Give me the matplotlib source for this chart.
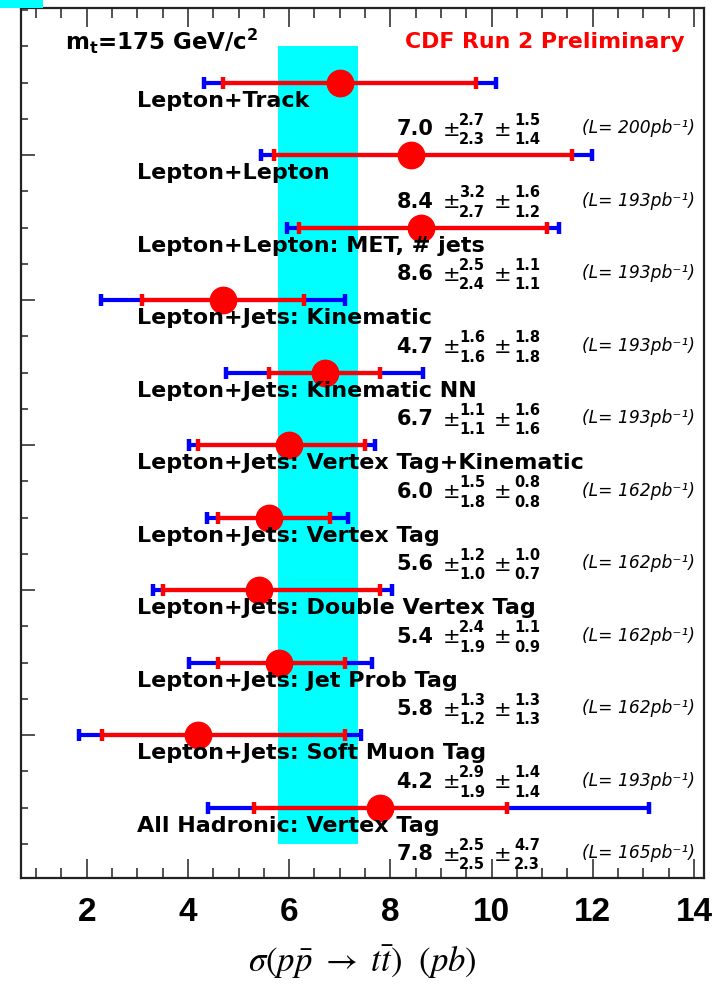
import matplotlib
matplotlib.use("Agg")
import matplotlib.pyplot as plt
from matplotlib.patches import Rectangle
from matplotlib.ticker import MultipleLocator, FixedLocator

# ---------------- data ----------------
labels = ["Lepton+Track", "Lepton+Lepton", "Lepton+Lepton: MET, # jets",
          "Lepton+Jets: Kinematic", "Lepton+Jets: Kinematic NN",
          "Lepton+Jets: Vertex Tag+Kinematic", "Lepton+Jets: Vertex Tag",
          "Lepton+Jets: Double Vertex Tag", "Lepton+Jets: Jet Prob Tag",
          "Lepton+Jets: Soft Muon Tag", "All Hadronic: Vertex Tag"]
values = [7.0, 8.4, 8.6, 4.7, 6.7, 6.0, 5.6, 5.4, 5.8, 4.2, 7.8]
stat_up = [2.7, 3.2, 2.5, 1.6, 1.1, 1.5, 1.2, 2.4, 1.3, 2.9, 2.5]
stat_dn = [2.3, 2.7, 2.4, 1.6, 1.1, 1.8, 1.0, 1.9, 1.2, 1.9, 2.5]
syst_up = [1.5, 1.6, 1.1, 1.8, 1.6, 0.8, 1.0, 1.1, 1.3, 1.4, 4.7]
syst_dn = [1.4, 1.2, 1.1, 1.8, 1.6, 0.8, 0.7, 0.9, 1.3, 1.4, 2.3]
tot_up = [3.09, 3.58, 2.73, 2.41, 1.94, 1.70, 1.56, 2.64, 1.84, 3.22, 5.32]
tot_dn = [2.69, 2.95, 2.64, 2.41, 1.94, 1.97, 1.22, 2.10, 1.77, 2.36, 3.40]
lumi = ["200", "193", "193", "193", "193", "162", "162", "162", "162", "193", "165"]
band_lo, band_hi = 5.77, 7.37
x_ticks = [2, 4, 6, 8, 10, 12, 14]

# ---------------- style ----------------
plt.rcParams["font.family"] = ["DejaVu Sans"]
plt.rcParams["mathtext.fontset"] = "dejavusans"

fig = plt.figure(figsize=(7.24, 9.86), dpi=100)
ax = fig.add_axes([21/724, 1-878/986, (704-21)/724, (878-8)/986])

rows = list(range(len(values)))
ax.set_xlim(0.7, 14.2)
ax.set_ylim(10.97, -1.03)

# band
ax.add_patch(Rectangle((band_lo, -0.5), band_hi - band_lo, 11.0,
                       facecolor="#00FFFF", edgecolor="none", zorder=0))

# error bars
ax.errorbar(values, rows, xerr=[tot_dn, tot_up], fmt="none", ecolor="#0000FF",
            elinewidth=3.0, capsize=4.5, capthick=3.2, zorder=2)
ax.errorbar(values, rows, xerr=[stat_dn, stat_up], fmt="none", ecolor="#FF0000",
            elinewidth=3.0, capsize=4.5, capthick=3.2, zorder=3)
ax.plot(values, rows, "o", color="#FF0000", markersize=19, zorder=4)

# texts
for i in rows:
    ax.text(3.0, i + 0.25, labels[i], fontsize=16, fontweight="bold",
            ha="left", va="center", zorder=5)
    ax.text(8.12, i + 0.64, f"{values[i]:.1f}", fontsize=15, fontweight="bold",
            ha="left", va="center", zorder=5)
    ax.text(9.03, i + 0.65, "±", fontsize=15, ha="left", va="center", zorder=5)
    ax.text(9.36, i + 0.52, f"{stat_up[i]:.1f}", fontsize=10.5, fontweight="bold",
            ha="left", va="center", zorder=5)
    ax.text(9.36, i + 0.785, f"{stat_dn[i]:.1f}", fontsize=10.5, fontweight="bold",
            ha="left", va="center", zorder=5)
    ax.text(10.05, i + 0.65, "±", fontsize=15, ha="left", va="center", zorder=5)
    ax.text(10.45, i + 0.52, f"{syst_up[i]:.1f}", fontsize=10.5, fontweight="bold",
            ha="left", va="center", zorder=5)
    ax.text(10.45, i + 0.785, f"{syst_dn[i]:.1f}", fontsize=10.5, fontweight="bold",
            ha="left", va="center", zorder=5)
    ax.text(11.79, i + 0.63, f"(L= {lumi[i]}pb⁻¹)", fontsize=12.3, style="italic",
            ha="left", va="center", zorder=5)

ax.text(0.064, 0.961, r"m$_\mathbf{t}$=175 GeV/c$^\mathbf{2}$", transform=ax.transAxes,
        fontsize=16.5, fontweight="bold", ha="left", va="center")
ax.text(0.972, 0.961, "CDF Run 2 Preliminary", transform=ax.transAxes,
        fontsize=15.8, fontweight="bold", color="#FF0000", ha="right", va="center")

# ticks
ax.xaxis.set_major_locator(FixedLocator(x_ticks))
ax.xaxis.set_minor_locator(MultipleLocator(0.5))
ax.yaxis.set_major_locator(FixedLocator([1, 3, 5, 7, 9]))
ax.yaxis.set_minor_locator(MultipleLocator(0.5))
ax.set_yticklabels([])
ax.tick_params(axis="x", which="major", direction="in", length=13.5, width=1.1,
               top=True, bottom=True, labelsize=24, pad=14, color="#222222")
ax.tick_params(axis="x", which="minor", direction="in", length=7, width=1.1,
               top=True, bottom=True, color="#222222")
ax.tick_params(axis="y", which="major", direction="in", length=10, width=1.1,
               left=True, right=False, color="#222222")
ax.tick_params(axis="y", which="minor", direction="in", length=5, width=1.1,
               left=True, right=False, color="#222222")
for lab in ax.get_xticklabels():
    lab.set_fontweight("bold")
    lab.set_family("Liberation Sans")
for sp in ax.spines.values():
    sp.set_linewidth(1.6)
    sp.set_color("#222222")

fig.text(0.5, 1 - 962/986, r"$\sigma(p\bar{p}\ \rightarrow\ t\bar{t})\ \ (pb)$",
         fontsize=25, ha="center", va="center", math_fontfamily="stix")

# cyan artefact in the top-left corner
fig.patches.append(Rectangle((0, 1 - 8/986), 43/724, 8/986, transform=fig.transFigure,
                             facecolor="#00FFFF", edgecolor="none"))

fig.savefig("out.png", dpi=100)
